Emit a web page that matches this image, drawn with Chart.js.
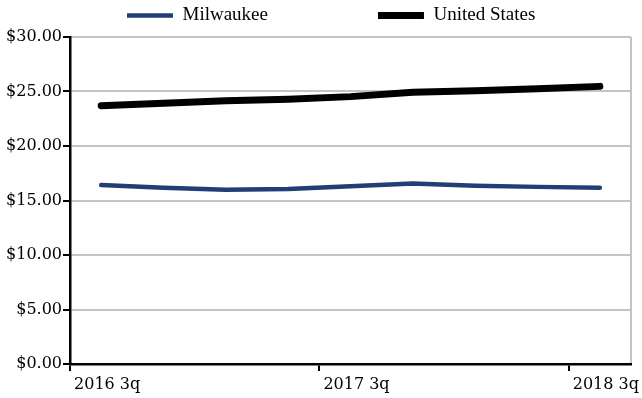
<!DOCTYPE html>
<html>
<head>
<meta charset="utf-8">
<title>Average hourly wage: Milwaukee vs United States</title>
<script src="https://cdn.jsdelivr.net/npm/chart.js@4/dist/chart.umd.min.js"></script>
<style>
  html, body { margin: 0; padding: 0; background: #ffffff; }
  #wrap { width: 642px; height: 398px; }
  canvas { display: block; }
</style>
</head>
<body>
<div id="wrap"><canvas id="chart" width="642" height="398"></canvas></div>
<script>
// Quarterly categories on the x axis
const quarters = ['2016 3q', '2016 4q', '2017 1q', '2017 2q', '2017 3q',
                  '2017 4q', '2018 1q', '2018 2q', '2018 3q'];
// Only every fourth quarter carries a label and a tick mark
const labelledQuarters = ['2016 3q', '2017 3q', '2018 3q'];

// Series values, dollars per hour
const milwaukee    = [16.42, 16.18, 15.98, 16.05, 16.30, 16.55, 16.36, 16.25, 16.18];
const unitedStates = [23.70, 23.92, 24.15, 24.30, 24.53, 24.93, 25.08, 25.26, 25.47];

const seriesNames = ['Milwaukee', 'United States'];

// Value axis range
const yMin = 0;
const yMax = 30;
const yStep = 5;

const GRID_GRAY = '#c4c4c4';
const LEGEND_PAD = 110;

// Places the legend row: first entry starts at x=127, row sits near the top edge
const legendRow = {
  id: 'legendRow',
  afterLayout(chart) {
    const lg = chart.legend;
    if (!lg) return;
    const p = lg.options.labels.padding;
    lg.left = 127 - p;
    lg.top = 6 - p;
    lg.right = chart.width + p * 2;
    lg.bottom = 36;
    lg.width = lg.right - lg.left;
    lg.height = lg.bottom - lg.top;
  }
};

new Chart(document.getElementById('chart'), {
  type: 'line',
  data: {
    labels: quarters,
    datasets: [
      {
        label: seriesNames[0],
        data: milwaukee,
        borderColor: '#213e76',
        backgroundColor: '#213e76',
        borderWidth: 4.5,
        borderCapStyle: 'round',
        borderJoinStyle: 'round',
        pointRadius: 0,
        tension: 0
      },
      {
        label: seriesNames[1],
        data: unitedStates,
        borderColor: '#000000',
        backgroundColor: '#000000',
        borderWidth: 7,
        borderCapStyle: 'round',
        borderJoinStyle: 'round',
        pointRadius: 0,
        tension: 0
      }
    ]
  },
  options: {
    responsive: false,
    animation: false,
    devicePixelRatio: 1,
    layout: { padding: { left: 0, right: 11, top: 0, bottom: 0 } },
    plugins: {
      tooltip: { enabled: false },
      legend: {
        position: 'top',
        align: 'start',
        maxHeight: 37,
        labels: {
          usePointStyle: true,
          pointStyle: 'line',
          pointStyleWidth: 46,
          padding: LEGEND_PAD,
          color: '#000000',
          font: { family: '"Liberation Serif", "Times New Roman", serif', size: 19 }
        }
      }
    },
    scales: {
      x: {
        type: 'category',
        offset: true,
        afterFit(scale) { scale.height = 34; },
        grid: {
          offset: true,
          drawOnChartArea: true,
          lineWidth: 2,
          color: (ctx) => (ctx.index === undefined ? GRID_GRAY : 'rgba(0,0,0,0)'),
          tickColor: (ctx) => (ctx.index !== undefined && labelledQuarters.includes(quarters[ctx.index]) ? '#000000' : 'rgba(0,0,0,0)'),
          tickWidth: 2,
          tickLength: 7
        },
        border: { display: true, color: '#000000', width: 2.5, z: 1 },
        ticks: {
          autoSkip: false,
          maxRotation: 0,
          minRotation: 0,
          labelOffset: 6,
          padding: 4,
          color: '#000000',
          font: { family: '"DejaVu Serif", serif', size: 16 },
          callback: (value, index) => (labelledQuarters.includes(quarters[index]) ? quarters[index] : '')
        }
      },
      y: {
        min: yMin,
        max: yMax,
        afterFit(scale) { scale.width = 70; },
        grid: {
          color: GRID_GRAY,
          lineWidth: 2,
          tickColor: '#000000',
          tickWidth: 2,
          tickLength: 7
        },
        border: { display: true, color: '#000000', width: 2.5, z: 1 },
        ticks: {
          stepSize: yStep,
          padding: 1,
          color: '#000000',
          font: { family: '"DejaVu Serif", serif', size: 16 },
          callback: (value) => '$' + Number(value).toFixed(2)
        }
      }
    }
  },
  plugins: [legendRow]
});
</script>
</body>
</html>
